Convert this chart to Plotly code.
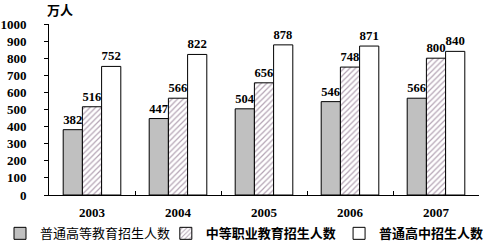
import plotly.graph_objects as go

years = ["2003", "2004", "2005", "2006", "2007"]
higher_edu = [382, 447, 504, 546, 566]
vocational = [516, 566, 656, 748, 800]
high_school = [752, 822, 878, 871, 840]
y_ticks = [0, 100, 200, 300, 400, 500, 600, 700, 800, 900, 1000]

serif = "Liberation Serif, DejaVu Serif, serif"
cjk = "Noto Sans CJK SC"
lab_font = dict(family=serif, size=13, color="black")

fig = go.Figure()
fig.add_bar(x=years, y=higher_edu, name="普通高等教育招生人数", legend="legend",
            marker=dict(color="#c0c0c0", line=dict(color="black", width=1)),
            text=[f"<b>{v}</b>" for v in higher_edu], textposition="outside",
            textfont=lab_font, cliponaxis=False)
fig.add_bar(x=years, y=vocational, name="<b>中等职业教育招生人数</b>", legend="legend2",
            marker=dict(color="white", line=dict(color="black", width=1),
                        pattern=dict(shape="/", fgcolor="#6a4a6a", bgcolor="white", size=4, solidity=0.3)),
            text=[f"<b>{v}</b>" for v in vocational], textposition="outside",
            textfont=lab_font, cliponaxis=False)
fig.add_bar(x=years, y=high_school, name="<b>普通高中招生人数</b>", legend="legend3",
            marker=dict(color="white", line=dict(color="black", width=1)),
            text=[f"<b>{v}</b>" for v in high_school], textposition="outside",
            textfont=lab_font, cliponaxis=False)

leg_common = dict(orientation="h", xref="container", yref="container", xanchor="left",
                  y=0.105, yanchor="top", font=dict(family=cjk, size=13, color="black"),
                  itemwidth=30, bgcolor="rgba(0,0,0,0)")

fig.update_layout(
    width=495, height=244,
    margin=dict(l=49, r=16, t=24, b=49, autoexpand=False),
    paper_bgcolor="white", plot_bgcolor="white",
    barmode="group", bargap=0.33, bargroupgap=0,
    showlegend=True,
    legend=dict(x=0.0, **leg_common),
    legend2=dict(x=0.335, **leg_common),
    legend3=dict(x=0.685, **leg_common),
    xaxis=dict(showline=True, linecolor="black", linewidth=1,
               ticks="inside", ticklen=4, tickcolor="black", tickson="boundaries",
               ticklabelstandoff=5,
               tickfont=dict(family=serif, size=13, color="black"),
               tickvals=years, ticktext=[f"<b>{y}</b>" for y in years]),
    yaxis=dict(range=[0, 1000], showline=True, linecolor="black", linewidth=1,
               ticks="outside", ticklen=4, tickcolor="black", showgrid=False, zeroline=False,
               ticklabelstandoff=15,
               tickvals=y_ticks, ticktext=[f"<b>{t}</b>" for t in y_ticks],
               tickfont=dict(family=serif, size=13, color="black")),
    annotations=[dict(text="<b>万人</b>", xref="paper", yref="paper", x=-0.01, y=1.02,
                      xanchor="left", yanchor="bottom", showarrow=False,
                      font=dict(family=cjk, size=13, color="black"))],
)

fig.write_html("out.html")
